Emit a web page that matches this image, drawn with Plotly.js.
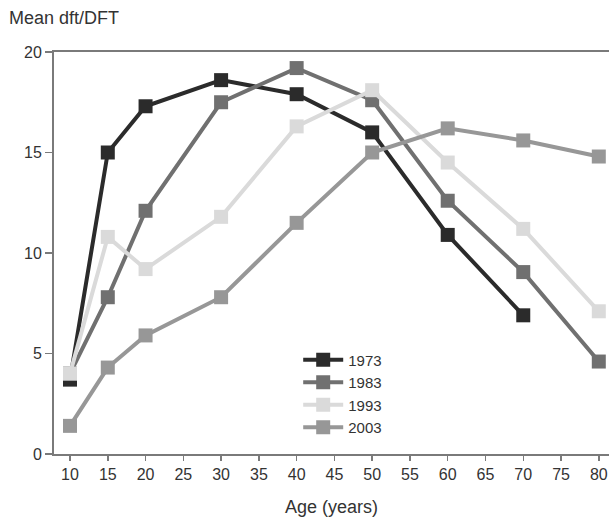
<!DOCTYPE html>
<html><head><meta charset="utf-8">
<script src="https://cdn.plot.ly/plotly-3.0.1.min.js"></script>
<style>body{margin:0;background:#fff}</style>
</head><body>
<div id="chart" style="width:609px;height:520px"></div>
<script>
var ages = [10, 15, 20, 30, 40, 50, 60, 70, 80];
var ages1973 = [10, 15, 20, 30, 40, 50, 60, 70];
var y1973 = [3.7, 15.0, 17.3, 18.6, 17.9, 16.0, 10.9, 6.9];
var y1983 = [4.0, 7.8, 12.1, 17.5, 19.2, 17.6, 12.6, 9.05, 4.6];
var y1993 = [4.0, 10.8, 9.2, 11.8, 16.3, 18.1, 14.5, 11.2, 7.1];
var y2003 = [1.4, 4.3, 5.9, 7.8, 11.5, 15.0, 16.2, 15.6, 14.8];
var seriesNames = ['1973', '1983', '1993', '2003'];
var colors = ['#2b2b2b', '#707070', '#dadada', '#979797'];
var xTicks = [10, 15, 20, 25, 30, 35, 40, 45, 50, 55, 60, 65, 70, 75, 80];

var xs = [ages1973, ages, ages, ages];
var ys = [y1973, y1983, y1993, y2003];
var traces = ys.map(function (y, i) {
  return {
    x: xs[i], y: y, name: seriesNames[i], type: 'scatter', mode: 'lines+markers',
    line: {color: colors[i], width: 4},
    marker: {symbol: 'square', size: 14, color: colors[i]}
  };
});

var layout = {
  width: 609, height: 520,
  margin: {l: 54, r: 0, t: 52, b: 66},
  paper_bgcolor: '#fff', plot_bgcolor: '#fff',
  font: {family: 'Liberation Sans, Arial, sans-serif', size: 16, color: '#333'},
  showlegend: true,
  legend: {x: 0.44, y: 0.275, xanchor: 'left', yanchor: 'top', bgcolor: 'rgba(0,0,0,0)',
           font: {size: 15, color: '#333'}, tracegroupgap: 0, itemwidth: 40},
  annotations: [{text: 'Mean dft/DFT', xref: 'paper', yref: 'paper', x: -0.085, y: 1.055,
                 xanchor: 'left', yanchor: 'bottom', showarrow: false,
                 font: {size: 18, color: '#333'}}],
  xaxis: {
    range: [7.88, 81.35], tickvals: xTicks, ticktext: xTicks.map(String),
    showgrid: false, zeroline: false, showline: true, linecolor: '#7a7a7a', linewidth: 2,
    mirror: true, ticks: 'outside', ticklen: 5, tickwidth: 1.5, tickcolor: '#7a7a7a',
    tickfont: {size: 16, color: '#333'},
    title: {text: 'Age (years)', font: {size: 18, color: '#333'}, standoff: 18}
  },
  yaxis: {
    range: [0, 20], tickvals: [0, 5, 10, 15, 20],
    showgrid: false, zeroline: false, showline: true, linecolor: '#7a7a7a', linewidth: 2,
    ticks: 'outside', ticklen: 7, tickwidth: 1.5, tickcolor: '#7a7a7a',
    tickfont: {size: 16, color: '#333'}
  }
};
Plotly.newPlot('chart', traces, layout, {displayModeBar: false, staticPlot: true});
</script>
</body></html>
